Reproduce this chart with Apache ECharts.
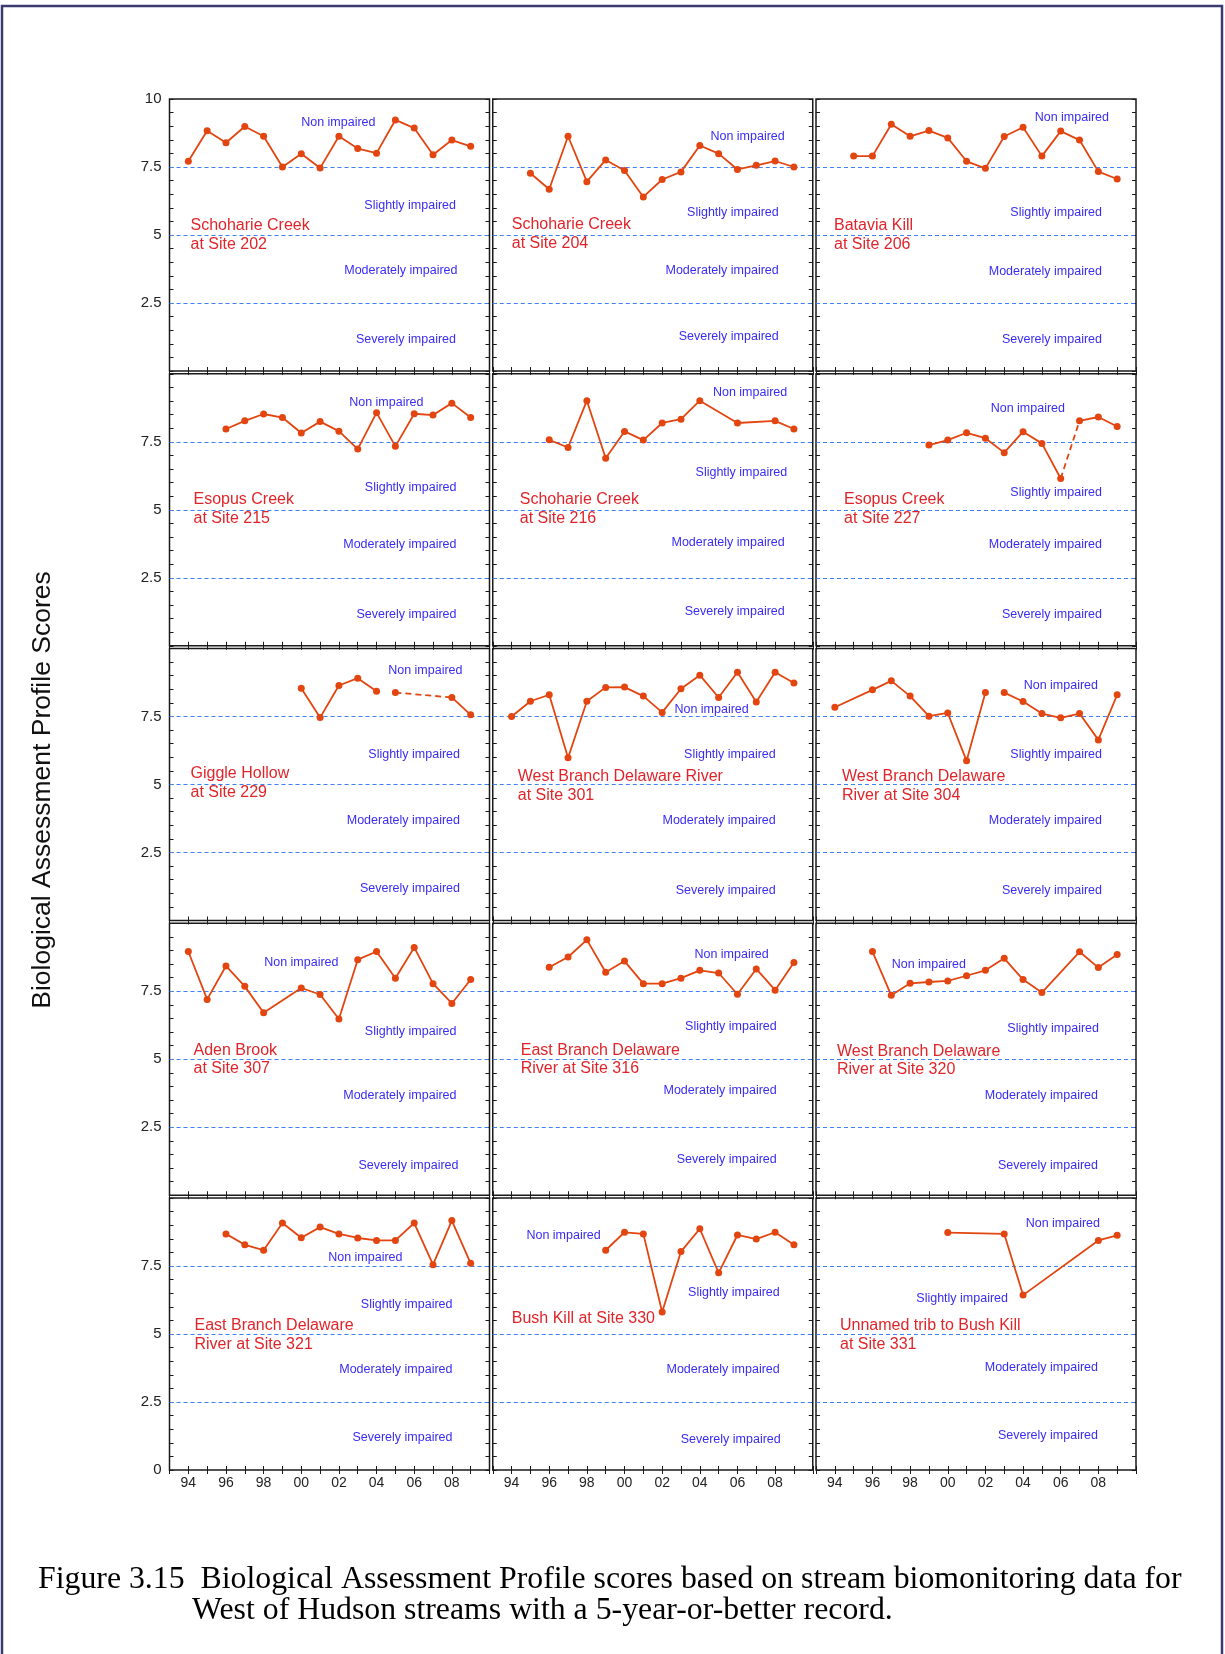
<!DOCTYPE html>
<html><head><meta charset="utf-8">
<script src="https://cdn.jsdelivr.net/npm/echarts@6/dist/echarts.min.js"></script>
<style>html,body{margin:0;padding:0;background:#fff}#c{width:1225px;height:1654px}</style>
</head><body><div id="c"></div>
<script>
// ---------- DATA ----------
const siteNames = [
  ['Schoharie Creek','at Site 202'], ['Schoharie Creek','at Site 204'], ['Batavia Kill','at Site 206'],
  ['Esopus Creek','at Site 215'], ['Schoharie Creek','at Site 216'], ['Esopus Creek','at Site 227'],
  ['Giggle Hollow','at Site 229'], ['West Branch Delaware River','at Site 301'], ['West Branch Delaware','River at Site 304'],
  ['Aden Brook','at Site 307'], ['East Branch Delaware','River at Site 316'], ['West Branch Delaware','River at Site 320'],
  ['East Branch Delaware','River at Site 321'], ['Bush Kill at Site 330'], ['Unnamed trib to Bush Kill','at Site 331']
];
const zoneNames = ['Non impaired','Slightly impaired','Moderately impaired','Severely impaired'];
const zoneBounds = [2.5, 5, 7.5];

const years202 = [1994,1995,1996,1997,1998,1999,2000,2001,2002,2003,2004,2005,2006,2007,2008,2009];
const score202 = [7.71,8.83,8.39,8.99,8.63,7.50,7.99,7.46,8.63,8.18,8.01,9.23,8.93,7.95,8.49,8.26];
const years204 = [1995,1996,1997,1998,1999,2000,2001,2002,2003,2004,2005,2006,2007,2008,2009];
const score204 = [7.27,6.68,8.63,6.96,7.76,7.37,6.40,7.04,7.32,8.29,7.99,7.41,7.56,7.72,7.50];
const years206 = [1995,1996,1997,1998,1999,2000,2001,2002,2003,2004,2005,2006,2007,2008,2009];
const score206 = [7.90,7.90,9.07,8.63,8.84,8.57,7.71,7.45,8.62,8.96,7.90,8.82,8.49,7.33,7.06];
const years215 = [1996,1997,1998,1999,2000,2001,2002,2003,2004,2005,2006,2007,2008,2009];
const score215 = [7.97,8.27,8.52,8.39,7.82,8.24,7.89,7.23,8.57,7.33,8.53,8.48,8.92,8.39];
const years216 = [1996,1997,1998,1999,2000,2001,2002,2003,2004,2006,2008,2009];
const score216 = [7.57,7.29,9.01,6.89,7.88,7.56,8.19,8.33,9.01,8.19,8.27,7.97];
const years227 = [1999,2000,2001,2002,2003,2004,2005,2006,2007,2008,2009];
const score227 = [7.38,7.56,7.83,7.63,7.10,7.87,7.44,6.15,8.27,8.41,8.06];
const years229 = [2000,2001,2002,2003,2004,2005,2008,2009];
const score229 = [8.54,7.46,8.64,8.91,8.43,8.38,8.20,7.56];
const years301 = [1994,1995,1996,1997,1998,1999,2000,2001,2002,2003,2004,2005,2006,2007,2008,2009];
const score301 = [7.50,8.06,8.30,5.98,8.06,8.57,8.58,8.25,7.65,8.52,9.02,8.20,9.13,8.03,9.13,8.73];
const years304 = [1994,1996,1997,1998,1999,2000,2001,2002,2003,2004,2005,2006,2007,2008,2009];
const score304 = [7.84,8.48,8.81,8.25,7.51,7.63,5.87,8.38,8.38,8.05,7.61,7.45,7.61,6.64,8.30];
const years307 = [1994,1995,1996,1997,1998,2000,2001,2002,2003,2004,2005,2006,2007,2008,2009];
const score307 = [8.96,7.20,8.43,7.68,6.71,7.62,7.38,6.48,8.66,8.96,7.98,9.11,7.78,7.05,7.93];
const years316 = [1996,1997,1998,1999,2000,2001,2002,2003,2004,2005,2006,2007,2008,2009];
const score316 = [8.38,8.76,9.39,8.20,8.61,7.78,7.78,7.98,8.27,8.17,7.39,8.32,7.54,8.56];
const years320 = [1996,1997,1998,1999,2000,2001,2002,2003,2004,2005,2007,2008,2009];
const score320 = [8.96,7.35,7.79,7.84,7.88,8.07,8.27,8.71,7.93,7.45,8.95,8.37,8.85];
const years321 = [1996,1997,1998,1999,2000,2001,2002,2003,2004,2005,2006,2007,2008,2009];
const score321 = [8.68,8.28,8.08,9.08,8.54,8.93,8.68,8.53,8.44,8.44,9.08,7.55,9.17,7.60];
const years330 = [1999,2000,2001,2002,2003,2004,2005,2006,2007,2008,2009];
const score330 = [8.08,8.74,8.68,5.81,8.03,8.87,7.25,8.64,8.49,8.74,8.28];
const years331 = [2000,2003,2004,2008,2009];
const score331 = [8.73,8.68,6.43,8.44,8.63];

// links between consecutive points that are not solid: [panel, fromYear, kind]
const specialLinks = [[5,2006,'dashed'],[6,2004,'none'],[6,2005,'dashed'],[8,2002,'none']];

const panelYears = [years202,years204,years206,years215,years216,years227,years229,years301,years304,years307,years316,years320,years321,years330,years331];
const panelScores = [score202,score204,score206,score215,score216,score227,score229,score301,score304,score307,score316,score320,score321,score330,score331];

// ---------- LAYOUT (label offsets in px relative to panel) ----------
// [nonRight,nonY, slRight,slY, modRight,modY, sevRight,sevY, siteX,siteY]
const labelPos = [
  [206,24, 286.5,107, 288,171.5, 286.5,240.5, 21,127],
  [292,37.5, 286,114, 286,171.5, 286,238, 19,125.5],
  [293,19, 286,114, 286,172.5, 286,240.5, 18,127],
  [254,29, 287,113.5, 287,171, 287,241, 24,126],
  [294.5,18.5, 294.5,99, 292,168.5, 292,238, 27,126],
  [249,35, 286,119, 286,171, 286,241, 28,126],
  [293,22.5, 290.5,106.5, 290.5,172.5, 290.5,240.5, 21,125.5],
  [256,61, 283,106.5, 283,172.5, 283,242, 25,128],
  [282,37, 286,106.5, 286,172.5, 286,242, 26,128],
  [169,39.5, 287,108, 287,172, 289,242, 24,127],
  [276,31, 284,103, 284,167, 284,236.5, 28,127],
  [150,41, 283,105.5, 282,172, 282,242, 21,128],
  [233,59.5, 283,106.5, 283,172, 283,240, 25,128],
  [108,38, 287,94.5, 287,172, 288,241.5, 19,121],
  [284,26, 192,101, 282,169.5, 282,237.5, 24,128]
];

const RED = '#e2450f', BLUE_LINE = '#3f80f2', ZONE = '#3a2cf2', SITE = '#e0252a';
const grids=[], xAxes=[], yAxes=[], series=[], graphics=[];

function fmtY(v, r){
  if (v===2.5) return '2.5';
  if (v===5) return '5';
  if (v===7.5) return '7.5';
  if (v===10 && r===0) return '10';
  if (v===0 && r===4) return '0';
  return '';
}

panelYears.forEach((yrs,i)=>{
  const r=Math.floor(i/3), c=i%3;
  const L=169.5+323.25*c, T=99+274.75*r, W=320, H=272;
  grids.push({left:L, top:T, width:W, height:H, show:true, borderColor:'#1a1a1a', borderWidth:1.5, backgroundColor:'rgba(0,0,0,0)'});
  const tick = {show:true, inside:true, length:4, lineStyle:{color:'#1a1a1a', width:1}};
  xAxes.push({gridIndex:i, type:'value', min:1993, max:2010, interval:1, position:'bottom',
    axisLine:{show:false}, axisTick:tick, splitLine:{show:false},
    axisLabel:{show:r===4, margin:6, fontSize:14, color:'#222', fontFamily:'Liberation Sans',
      formatter:v=> (v%2===0 && v>=1994 && v<=2008) ? String(v%100).padStart(2,'0') : ''}});
  xAxes.push({gridIndex:i, type:'value', min:1993, max:2010, interval:1, position:'top',
    axisLine:{show:false}, axisTick:tick, splitLine:{show:false}, axisLabel:{show:false}});
  yAxes.push({gridIndex:i, type:'value', min:0, max:10, interval:0.5, position:'left',
    axisLine:{show:false}, axisTick:tick, splitLine:{show:false},
    axisLabel:{show:c===0, margin:8, fontSize:15, color:'#222', fontFamily:'Liberation Sans', formatter:v=>fmtY(v,r)}});
  yAxes.push({gridIndex:i, type:'value', min:0, max:10, interval:0.5, position:'right',
    axisLine:{show:false}, axisTick:tick, splitLine:{show:false}, axisLabel:{show:false}});

  const xi=2*i, yi=2*i;
  // zone boundary lines
  series.push({type:'line', xAxisIndex:xi, yAxisIndex:yi, data:[], silent:true, animation:false,
    markLine:{silent:true, symbol:['none','none'], animation:false, label:{show:false},
      lineStyle:{color:BLUE_LINE, type:[4,3], width:1.2},
      data: zoneBounds.map(b=>({yAxis:b}))}});

  const sc = panelScores[i];
  const links = specialLinks.filter(s=>s[0]===i);
  let run=[];
  const flush=()=>{ if(run.length){ series.push({type:'line', xAxisIndex:xi, yAxisIndex:yi, data:run, animation:false,
      symbol:'circle', symbolSize:7, showSymbol:true, itemStyle:{color:RED}, lineStyle:{color:RED, width:1.8}, z:5}); } run=[]; };
  yrs.forEach((y,k)=>{
    run.push([y, sc[k]]);
    const l = links.find(s=>s[1]===y);
    if (l && k<yrs.length-1){
      flush();
      if (l[2]==='dashed'){
        series.push({type:'line', xAxisIndex:xi, yAxisIndex:yi, data:[[y,sc[k]],[yrs[k+1],sc[k+1]]], animation:false,
          symbol:'none', lineStyle:{color:RED, width:1.8, type:[6,4]}, z:4});
      }
    }
  });
  flush();

  // text labels
  const p = labelPos[i];
  zoneNames.forEach((z,j)=>{
    graphics.push({type:'text', x:L+p[2*j], y:T+p[2*j+1], silent:true,
      style:{text:z, align:'right', verticalAlign:'middle', fill:ZONE, font:'12.5px "Liberation Sans"'}});
  });
  const nm = siteNames[i];
  nm.forEach((s,j)=>{
    graphics.push({type:'text', x:L+p[8], y:T+p[9]+j*18.6, silent:true,
      style:{text:s, align:'left', verticalAlign:'middle', fill:SITE, font:'16px "Liberation Sans"'}});
  });
});

// page frame, axis title, caption
const FRAME='#3b3b72';
graphics.push({type:'line', shape:{x1:1,y1:6,x2:1223,y2:6}, style:{stroke:FRAME, lineWidth:2.5}});
graphics.push({type:'line', shape:{x1:2,y1:5,x2:2,y2:1654}, style:{stroke:FRAME, lineWidth:2.5}});
graphics.push({type:'line', shape:{x1:1222,y1:5,x2:1222,y2:1654}, style:{stroke:FRAME, lineWidth:2.5}});
graphics.push({type:'text', x:43, y:790, rotation:Math.PI/2, silent:true,
  style:{text:'Biological Assessment Profile Scores', align:'center', verticalAlign:'middle', fill:'#111', font:'26.5px "Liberation Sans"'}});
graphics.push({type:'text', x:38, y:1580, silent:true,
  style:{text:'Figure 3.15  Biological Assessment Profile scores based on stream biomonitoring data for', align:'left', verticalAlign:'middle', fill:'#000', font:'31.8px "Liberation Serif"'}});
graphics.push({type:'text', x:192, y:1611, silent:true,
  style:{text:'West of Hudson streams with a 5-year-or-better record.', align:'left', verticalAlign:'middle', fill:'#000', font:'31.8px "Liberation Serif"'}});

const chart = echarts.init(document.getElementById('c'), null, {renderer:'canvas', width:1225, height:1654});
chart.setOption({animation:false, backgroundColor:'#fff', grid:grids, xAxis:xAxes, yAxis:yAxes, series:series, graphic:graphics});
</script></body></html>
